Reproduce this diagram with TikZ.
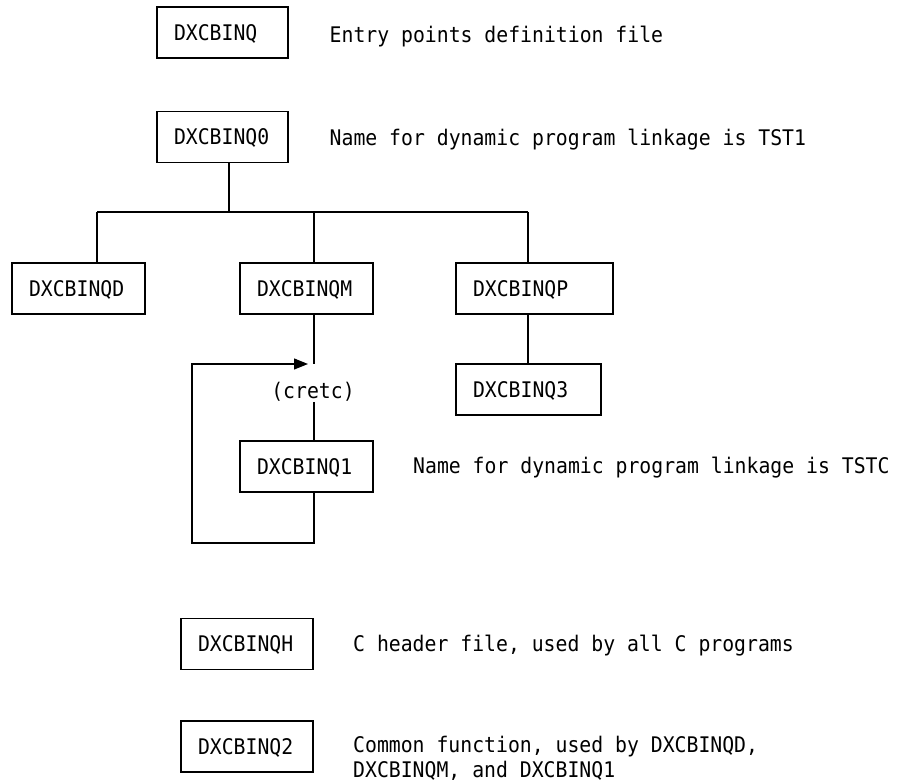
\documentclass[tikz,border=0pt]{standalone}
\usepackage{fontspec}
\newfontfamily\dmono[FakeStretch=0.92]{DejaVu Sans Mono}
\usetikzlibrary{arrows.meta,calc}
\begin{document}
\begin{tikzpicture}[x=1pt,y=-1pt,
  font=\dmono\fontsize{21.5pt}{25pt}\selectfont,
  every node/.style={inner sep=0pt},
  line/.style={line width=1.2pt},
  pbox/.style={draw, line width=1.2pt, minimum height=51pt, inner xsep=17pt, inner ysep=0pt,
    align=left, text height=15.5pt, text depth=0pt},
  note/.style={anchor=base west, align=left}
]
\useasboundingbox (0,0) rectangle (898,783);
% boxes
\node[pbox, text width=97pt]  (q)  at (222.5,32.5) {DXCBINQ};
\node[pbox, text width=97pt]  (q0) at (222.5,137)  {DXCBINQ0};
\node[pbox, text width=99pt]  (d)  at (78.5,288.5) {DXCBINQD};
\node[pbox, text width=99pt]  (m)  at (306.5,288.5) {DXCBINQM};
\node[pbox, text width=123pt] (p)  at (534.5,288.5) {DXCBINQP};
\node[pbox, text width=111pt] (q3) at (528.5,389.5) {DXCBINQ3};
\node[pbox, text width=99pt]  (q1) at (306.5,466.5) {DXCBINQ1};
\node[pbox, text width=98pt]  (h)  at (247,644)    {DXCBINQH};
\node[pbox, text width=98pt]  (q2) at (247,746.5)  {DXCBINQ2};
% notes
\node[note] (t1) at (329.5,42.5) {Entry points definition file};
\node[note] (t2) at (329.5,145.5) {Name for dynamic program linkage is TST1};
\node[note] (t3) at (413,474) {Name for dynamic program linkage is TSTC};
\node[note] (t4) at (353,651.5) {C header file, used by all C programs};
\node[note] (t5) at (353,777.5) {Common function, used by DXCBINQD,\\DXCBINQM, and DXCBINQ1};
\node (cretc) at (313,392) {(cretc)};
% connectors
\coordinate (b0) at (229,212);
\coordinate (bl) at (97,212);
\coordinate (bm) at (314,212);
\coordinate (br) at (528,212);
\coordinate (arr) at (308,364);
\coordinate (c2) at (314,402);
\coordinate (lb) at (192,543);
\coordinate (lt) at (192,364);
\draw[line] (b0 |- q0.south) -- (b0);
\draw[line] (bl) -- (br);
\draw[line] (bl) -- (bl |- d.north);
\draw[line] (bm) -- (bm |- m.north);
\draw[line] (br) -- (br |- p.north);
\draw[line] (br |- p.south) -- (br |- q3.north);
\draw[line] (bm |- m.south) -- (bm |- arr);
\draw[line] (c2) -- (bm |- q1.north);
\draw[line, -{Triangle[length=14pt,width=11pt]}] (bm |- q1.south) |- (lb) -- (lt) -- (arr);
\end{tikzpicture}
\end{document}
